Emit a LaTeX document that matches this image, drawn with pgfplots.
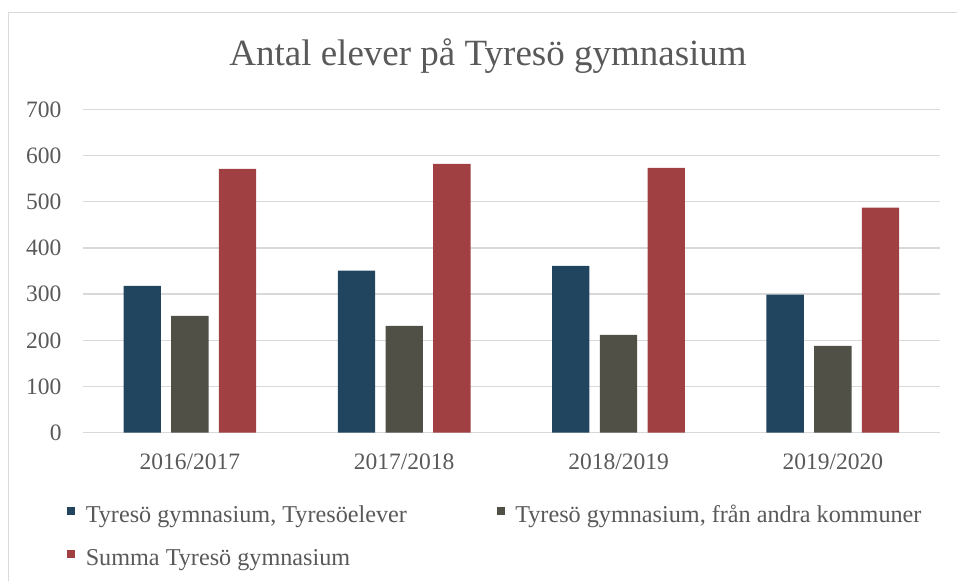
\documentclass[border=0pt]{standalone}
\usepackage{pgfplots}
\pgfplotsset{compat=1.18}
\usepackage{fontspec}
\setmainfont{Liberation Serif}
\definecolor{cblue}{HTML}{21455F}
\definecolor{cgray}{HTML}{505047}
\definecolor{cred}{HTML}{A04042}
\definecolor{gridc}{HTML}{D9D9D9}
\definecolor{txt}{HTML}{595959}
\begin{document}
\begin{tikzpicture}[x=1pt,y=1pt]
\path[use as bounding box] (0,0) rectangle (957,581);
\draw[gridc, line width=1.5pt] (8.3,0) -- (8.3,568.3) -- (957,568.3);
\node[anchor=base, text=txt, font=\fontsize{37}{44}\selectfont] at (488,515.3) {Antal elever på Tyresö gymnasium};
\begin{axis}[
  at={(82.7pt,148.3pt)}, anchor=south west,
  width=857.3pt, height=323.4pt, scale only axis,
  ybar=10.4pt, bar width=37.3pt,
  xmin=-0.5, xmax=3.5, ymin=0, ymax=700,
  xtick={0,1,2,3}, xticklabels={2016/2017,2017/2018,2018/2019,2019/2020},
  ytick={0,100,...,700},
  ymajorgrids, grid style={gridc, line width=1.5pt},
  axis line style={draw=none},
  major tick length=0pt,
  tick label style={text=txt, font=\fontsize{23.5}{28}\selectfont},
  /pgf/number format/assume math mode=true,
  yticklabel style={anchor=east, inner sep=0pt, xshift=-21pt},
  xticklabel style={anchor=base, inner sep=0pt, yshift=-36.6pt},
  legend columns=2,
  legend cell align=left,
  legend style={draw=none, fill=none, inner sep=0pt,
    at={(axis description cs:-0.018,-0.224)}, anchor=north west,
    row sep=25pt, text=txt, font=\fontsize{24.2}{29}\selectfont,
    nodes={inner sep=0pt},
    /tikz/every odd column/.append style={column sep=10.3pt},
    /tikz/every even column/.append style={column sep=90pt}},
  legend image code/.code={\fill[#1] (0pt,0.3pt) rectangle (8pt,8.3pt);},
]
\addplot[fill=cblue, draw=none] coordinates {(0,318) (1,351) (2,361) (3,299)};
\addlegendentry{Tyresö gymnasium, Tyresöelever}
\addplot[fill=cgray, draw=none] coordinates {(0,253) (1,231) (2,212) (3,188)};
\addlegendentry{Tyresö gymnasium, från andra kommuner}
\addplot[fill=cred, draw=none] coordinates {(0,571) (1,582) (2,573) (3,487)};
\addlegendentry{Summa Tyresö gymnasium}
\end{axis}
\end{tikzpicture}
\end{document}
